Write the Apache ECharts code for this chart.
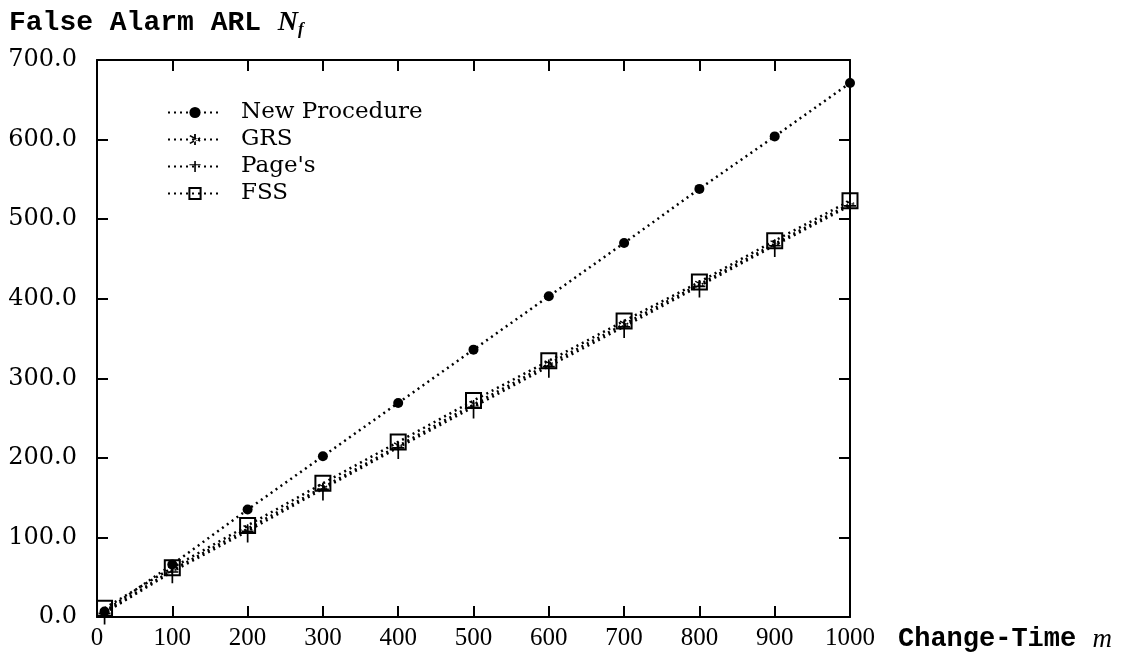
<!DOCTYPE html>
<html>
<head>
<meta charset="utf-8">
<script src="https://cdn.jsdelivr.net/npm/echarts@6/dist/echarts.min.js"></script>
<style>
html,body{margin:0;padding:0;background:#fff;}
#chart{width:1127px;height:653px;}
</style>
</head>
<body>
<div id="chart"></div>
<script>
// ---- data ----
var changeTimes = [10, 100, 200, 300, 400, 500, 600, 700, 800, 900, 1000];
var newProcedure = [7, 66, 135, 202, 269, 336, 403, 470, 538, 604, 671];
var grs = [6, 59, 111, 163, 215, 267, 318, 368, 418, 469, 519];
var pages = [5, 57, 108, 161, 213, 264, 315, 365, 416, 467, 517];
var fss = [11, 62, 115, 168, 220, 272, 322, 372, 421, 473, 523];
var seriesNames = ['New Procedure', 'GRS', "Page's", 'FSS'];
var xTicks = [0, 100, 200, 300, 400, 500, 600, 700, 800, 900, 1000];
var yTicks = [0, 100, 200, 300, 400, 500, 600, 700];

function pairs(ys) { return changeTimes.map(function (x, i) { return [x, ys[i]]; }); }

var serif = '"DejaVu Serif", serif';
var serif2 = '"Liberation Serif", serif';
var mono = '"Liberation Mono", "DejaVu Sans Mono", monospace';

var asterisk = 'path://M4.3,0h1.4v10h-1.4z M0.6,2.2l0.7,-1.2l8.1,4.8l-0.7,1.2z M0.6,7.8l0.7,1.2l8.1,-4.8l-0.7,-1.2z';
var plus = 'path://M0,5h12v1.7h-12z M5.2,0h1.7v17h-1.7z';

var dots = [2, 4];

function frameAxis(extra) {
  var base = {
    axisLine: {show: true, onZero: false, lineStyle: {color: '#000', width: 2}},
    axisTick: {show: true, inside: true, length: 11, lineStyle: {color: '#000', width: 2}},
    splitLine: {show: false}
  };
  for (var k in extra) base[k] = extra[k];
  return base;
}

var chart = echarts.init(document.getElementById('chart'), null, {renderer: 'canvas'});
var option = {
  animation: false,
  backgroundColor: '#fff',
  title: {
    left: 4, top: 3,
    text: '{m|False Alarm ARL }{n|N}{s|f}',
    textStyle: {
      rich: {
        m: {fontFamily: mono, fontSize: 28, fontWeight: 'bold', color: '#000'},
        n: {fontFamily: serif2, fontSize: 28, fontStyle: 'italic', color: '#000'},
        s: {fontFamily: serif2, fontSize: 17, fontStyle: 'italic', color: '#000', padding: [13, 0, 0, 0]}
      }
    }
  },
  legend: {
    orient: 'vertical',
    left: 162, top: 94,
    itemWidth: 54, itemHeight: 14, itemGap: 0,
    textStyle: {fontFamily: serif, fontSize: 23, color: '#000', lineHeight: 27, padding: [0, 0, 0, 14]},
    data: seriesNames
  },
  grid: {left: 97, right: 277, top: 60, bottom: 34},
  xAxis: [frameAxis({
    type: 'value', min: 0, max: 1000, interval: 100,
    position: 'bottom',
    axisLabel: {
      fontFamily: serif2, fontSize: 25, color: '#000', margin: 9,
      customValues: xTicks,
      formatter: function (v) { return String(v); }
    },
    name: '{a|Change-Time }{b|m}',
    nameLocation: 'end', nameGap: 48,
    nameTextStyle: {
      align: 'left', verticalAlign: 'top', padding: [9, 0, 0, 0],
      rich: {
        a: {fontFamily: mono, fontSize: 27, fontWeight: 'bold', color: '#000'},
        b: {fontFamily: serif2, fontSize: 27, fontStyle: 'italic', color: '#000'}
      }
    }
  }), frameAxis({
    type: 'value', min: 0, max: 1000, interval: 100,
    position: 'top',
    axisLabel: {show: false}
  })],
  yAxis: [frameAxis({
    type: 'value', min: 0, max: 700, interval: 100,
    position: 'left',
    axisLabel: {
      fontFamily: serif, fontSize: 24, color: '#000', margin: 20,
      customValues: yTicks,
      formatter: function (v) { return v.toFixed(1); }
    }
  }), frameAxis({
    type: 'value', min: 0, max: 700, interval: 100,
    position: 'right',
    axisLabel: {show: false}
  })],
  series: [{
    name: seriesNames[3], type: 'line', data: pairs(fss), z: 2,
    symbol: 'rect', symbolSize: 15,
    itemStyle: {color: 'rgba(255,255,255,0)', borderColor: '#000', borderWidth: 2},
    lineStyle: {color: '#000', width: 2.5, type: dots}
  }, {
    name: seriesNames[2], type: 'line', data: pairs(pages), z: 3,
    symbol: plus, symbolSize: [12, 17], symbolOffset: [0, 3],
    itemStyle: {color: '#000'},
    lineStyle: {color: '#000', width: 2.5, type: dots}
  }, {
    name: seriesNames[1], type: 'line', data: pairs(grs), z: 4,
    symbol: asterisk, symbolSize: 9,
    itemStyle: {color: '#000'},
    lineStyle: {color: '#000', width: 2.5, type: dots}
  }, {
    name: seriesNames[0], type: 'line', data: pairs(newProcedure), z: 5,
    symbol: 'circle', symbolSize: 10,
    itemStyle: {color: '#000'},
    lineStyle: {color: '#000', width: 2.5, type: dots}
  }]
};
chart.setOption(option);
</script>
</body>
</html>
